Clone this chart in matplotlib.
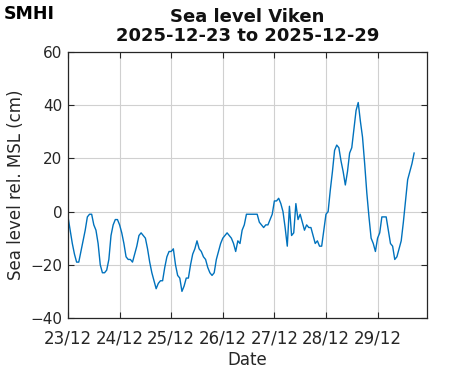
import numpy as np
import pandas as pd
import matplotlib
matplotlib.use("Agg")
import matplotlib.pyplot as plt
import matplotlib.dates as mdates

# hourly sea level (cm rel. MSL), starting 2025-12-23 00:00
start = "2025-12-23 00:00"
sea_level = [
    -2, -7, -12, -16, -19, -19, -15, -11, -7, -2, -1, -1,
    -5, -7, -12, -20, -23, -23, -22, -18, -9, -5, -3, -3,
    -5, -8, -12, -17, -18, -18, -19, -16, -13, -9, -8, -9,
    -10, -14, -19, -23, -26, -29, -27, -26, -26, -21, -17, -15,
    -15, -14, -20, -24, -25, -30, -28, -25, -25, -20, -16, -14,
    -11, -14, -15, -17, -18, -21, -23, -24, -23, -18, -15, -12,
    -10, -9, -8, -9, -10, -12, -15, -11, -12, -7, -5, -1,
    -1, -1, -1, -1, -1, -4, -5, -6, -5, -5, -3, -1,
    4, 4, 5, 3, 0, -6, -13, 2, -9, -8, 3, -3,
    -1, -4, -7, -5, -6, -6, -9, -12, -11, -13, -13, -7,
    -1, 0, 8, 15, 23, 25, 24, 19, 15, 10, 15, 22,
    24, 31, 38, 41, 34, 28, 18, 7, -2, -10, -12, -15,
    -10, -8, -2, -2, -2, -7, -12, -13, -18, -17, -14, -11,
    -4, 4, 12, 15, 18, 22,
]
times = pd.date_range(start, periods=len(sea_level), freq="h")

x_start = pd.Timestamp("2025-12-23 00:00")
x_end = pd.Timestamp("2025-12-29 23:00")
y_ticks = [-40, -20, 0, 20, 40, 60]

fig = plt.figure(figsize=(4.71, 3.71), dpi=100)
ax = fig.add_axes([0.1444, 0.1429, 0.7622, 0.717])

ax.plot(times, sea_level, color="#0072BD", linewidth=1.0)

ax.set_xlim(x_start, x_end)
ax.set_ylim(-40, 60)
ax.set_yticks(y_ticks)
ax.xaxis.set_major_locator(mdates.DayLocator())
ax.xaxis.set_major_formatter(mdates.DateFormatter("%d/%m"))

ax.grid(True, color="#d0d0d0", linewidth=0.8)
ax.set_axisbelow(True)
for sp in ax.spines.values():
    sp.set_color("#262626")
    sp.set_linewidth(0.9)
ax.tick_params(direction="in", top=True, right=True, length=4, width=0.8,
               labelcolor="#262626", color="#262626")
ax.tick_params(axis="y", labelsize=11, pad=4)
ax.tick_params(axis="x", labelsize=12, pad=8)

ax.set_xlabel("Date", fontsize=12, color="#262626", labelpad=3)
ax.set_ylabel("Sea level rel. MSL (cm)", fontsize=12, color="#262626", labelpad=4)
ax.set_title("Sea level Viken\n2025-12-23 to 2025-12-29", fontsize=13,
             fontweight="bold", color="#111111", pad=8, linespacing=1.05)

fig.text(0.008, 0.986, "SMHI", fontsize=12.5, fontweight="heavy",
         ha="left", va="top", color="black")

fig.savefig("out.png", dpi=100)
